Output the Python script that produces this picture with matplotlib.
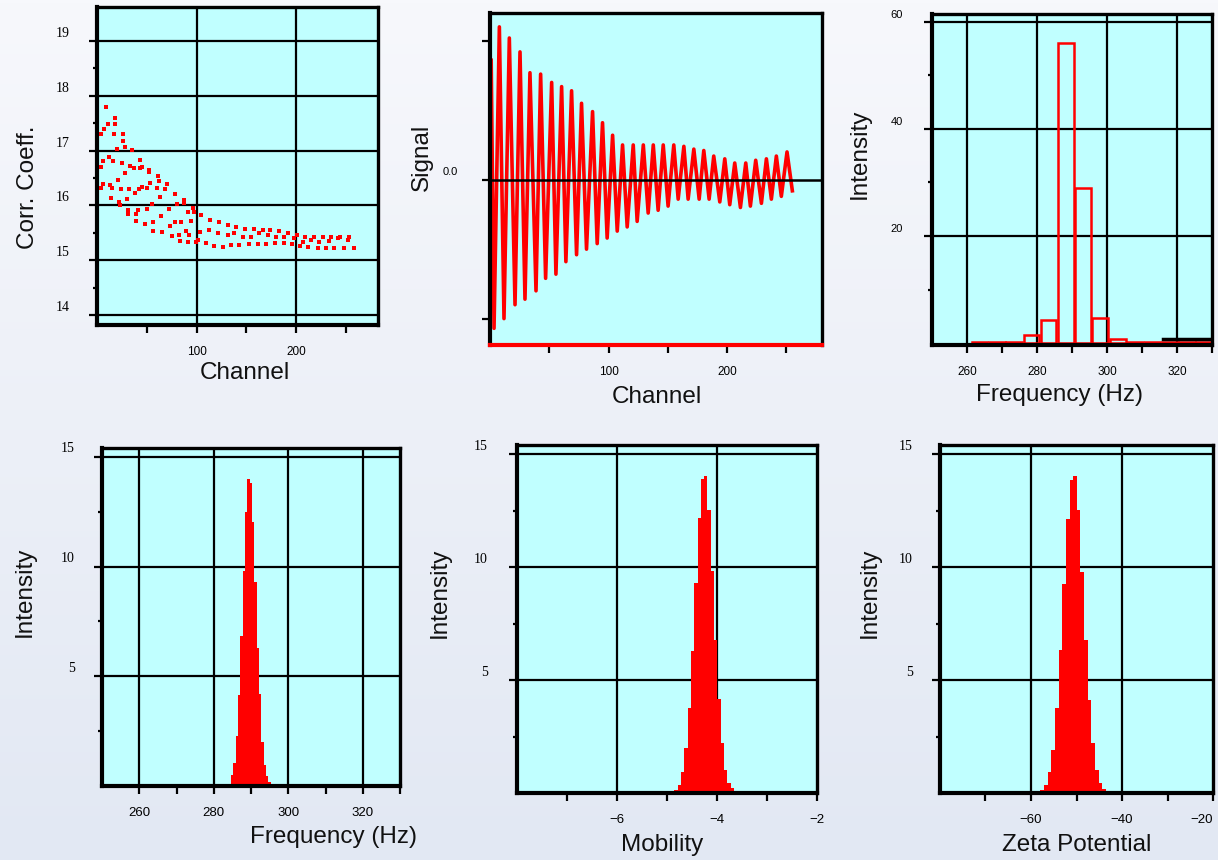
import numpy as np
import matplotlib
matplotlib.use("Agg")
import matplotlib.pyplot as plt

# ---- data -------------------------------------------------------------
# correlation coefficient scatter (channel, value)
corr_channel = [
    3.6, 7.3, 9.4, 10.7, 16.7, 18.4, 18.4, 19.8, 25.8, 26.4, 28.1, 35.1,
    4.0, 6.3, 11.7, 15.7, 25.1, 28.4, 33.4, 36.8, 43.5, 43.5, 45.2, 51.9,
    52.5, 61.5, 61.9, 20.8,
    4.3, 5.7, 13.0, 14.7, 24.1, 32.5, 37.8, 41.8, 45.2, 50.2, 53.2, 59.9,
    68.5, 69.9, 78.3,
    13.7, 21.7, 23.1, 30.1, 31.4, 41.5, 49.8, 55.2, 63.2, 71.9, 79.9, 87.6,
    87.6, 91.0, 96.0, 97.3,
    31.1, 39.1, 39.1, 48.5, 56.5, 64.2, 73.2, 78.3, 84.3, 94.3,
    56.5, 64.9, 75.2, 82.6, 89.3, 92.6, 83.6, 91.0, 99.3,
    104.3, 113.7, 122.7, 131.1, 139.5, 148.5, 157.9, 166.2, 173.9, 182.9,
    191.3, 200.3, 208.7, 218.0, 226.4, 234.8, 243.8, 252.5,
    103.7, 112.7, 121.1, 131.1, 137.8, 146.2, 154.5, 162.9, 171.2, 179.6,
    188.0, 198.0, 206.4, 214.7, 223.1, 233.1, 241.5, 251.5,
    101.0, 109.4, 117.7, 126.1, 134.4, 142.8, 152.8, 161.2, 169.6, 178.6,
    188.0, 195.3, 204.0, 212.0, 221.4, 229.8, 238.1, 248.2, 257.5,
]
corr_value = [
    17.30, 17.39, 17.80, 17.48, 17.30, 17.59, 17.48, 17.03, 17.17, 17.30, 17.06, 17.02,
    16.70, 16.81, 16.88, 16.81, 16.77, 16.59, 16.72, 16.68, 16.83, 16.68, 16.70, 16.61,
    16.64, 16.53, 16.45, 16.47,
    16.31, 16.39, 16.38, 16.31, 16.30, 16.30, 16.22, 16.30, 16.34, 16.31, 16.41, 16.31,
    16.30, 16.39, 16.21,
    16.13, 16.07, 16.01, 16.11, 15.92, 15.92, 15.93, 16.02, 16.16, 15.94, 16.02, 16.10,
    16.04, 15.89, 15.96, 15.89,
    15.85, 15.85, 15.72, 15.66, 15.69, 15.81, 15.63, 15.70, 15.70, 15.72,
    15.53, 15.52, 15.45, 15.46, 15.53, 15.46, 15.36, 15.34, 15.34,
    15.83, 15.74, 15.69, 15.64, 15.61, 15.58, 15.57, 15.55, 15.55, 15.54,
    15.49, 15.46, 15.43, 15.43, 15.42, 15.42, 15.43, 15.42,
    15.52, 15.55, 15.49, 15.46, 15.49, 15.42, 15.42, 15.49, 15.46, 15.43,
    15.42, 15.40, 15.34, 15.37, 15.34, 15.36, 15.40, 15.37,
    15.37, 15.31, 15.26, 15.25, 15.28, 15.28, 15.29, 15.29, 15.30, 15.31,
    15.31, 15.30, 15.26, 15.24, 15.22, 15.22, 15.22, 15.22, 15.22,
]

# raw signal: peaks and troughs
sig_channel = [1, 3.4, 7.9, 11.8, 16.3, 21.1, 25.3, 29.5, 33.7, 38.8, 42.7, 46.9,
               52.0, 55.6, 60.4, 64.0, 68.8, 73.0, 77.2, 81.4, 86.5, 90.4, 94.9,
               98.8, 103.4, 107.3, 111.8, 115.7, 120.8, 124.1, 129.3, 133.4, 137.7,
               141.8, 146.1, 150.2, 155.0, 158.7, 163.5, 167.1, 171.9, 176.4, 180.3,
               184.8, 188.7, 193.8, 198.0, 202.2, 206.4, 211.2, 215.7, 219.6, 224.1,
               228.9, 233.1, 237.3, 241.5, 245.7, 250.5, 255.0]
sig_value = [0.86, -1.07, 1.10, -1.00, 1.02, -0.90, 0.92, -0.86, 0.77, -0.80, 0.76, -0.71,
             0.70, -0.68, 0.67, -0.59, 0.64, -0.54, 0.55, -0.50, 0.49, -0.46, 0.41,
             -0.42, 0.32, -0.37, 0.25, -0.34, 0.25, -0.30, 0.25, -0.24, 0.25,
             -0.22, 0.25, -0.19, 0.25, -0.14, 0.24, -0.14, 0.22, -0.14, 0.21,
             -0.14, 0.17, -0.16, 0.15, -0.18, 0.12, -0.20, 0.12, -0.19, 0.14,
             -0.17, 0.15, -0.14, 0.17, -0.12, 0.20, -0.08]

# coarse frequency spectrum
fft_freq = [263.6, 268.5, 273.5, 278.4, 283.3, 288.3, 293.2, 298.1, 303.1,
            308.0, 313.0, 317.9, 322.9, 327.8]
fft_intensity = [0.2, 0.2, 0.2, 1.5, 4.4, 56.0, 29.0, 4.7, 0.8,
                 0.2, 0.2, 0.2, 0.2, 0.2]
fft_black_freq = [316, 330]
fft_black_level = [0.8, 0.8]

# fine distributions
freq_range = (284.0, 295.3)
freq_intensity = [0.11, 0.49, 1.05, 2.28, 4.14, 6.83, 9.79, 12.47, 13.97,
                  13.82, 12.04, 9.29, 6.27, 4.17, 2.00, 0.94, 0.46, 0.18]
mob_range = (-4.852, -3.598)
mob_intensity = [0.12, 0.35, 0.94, 1.98, 3.75, 6.30, 9.28, 12.15, 13.88, 14.03,
                 12.52, 9.82, 6.77, 4.15, 2.23, 1.02, 0.46, 0.21, 0.08]
zeta_range = (-57.97, -42.69)
zeta_intensity = [0.12, 0.34, 0.93, 1.92, 3.76, 6.31, 9.26, 12.14, 13.86, 14.01,
                  12.51, 9.79, 6.78, 4.13, 2.23, 1.00, 0.44, 0.16, 0.05]

# ---- figure -------------------------------------------------------------
W, H = 1218, 860
fig = plt.figure(figsize=(W / 100, H / 100), dpi=100)

bg = fig.add_axes([0, 0, 1, 1], zorder=-10)
grad = np.linspace(0, 1, 256)[:, None]
top = np.array([247, 248, 252]) / 255
bot = np.array([226, 232, 243]) / 255
bg.imshow(top + grad[..., None] * (bot - top), aspect="auto", extent=[0, 1, 0, 1])
bg.axis("off")

CYAN = "#c0ffff"
SANS = "Liberation Sans"
SERIF = "Liberation Serif"


def make_axes(x0, y0, x1, y1):
    ax = fig.add_axes([x0 / W, 1 - y1 / H, (x1 - x0) / W, (y1 - y0) / H])
    ax.set_facecolor(CYAN)
    for s in ax.spines.values():
        s.set_linewidth(2.4)
        s.set_color("black")
    ax.spines["left"].set_linewidth(3)
    ax.spines["bottom"].set_linewidth(3)
    ax.tick_params(which="both", direction="out", color="black", width=1.6,
                   top=False, right=False)
    ax.tick_params(which="major", length=6)
    ax.tick_params(which="minor", length=3)
    ax.tick_params(axis="x", pad=9, labelsize=8.5)
    ax.set_yticklabels([])
    return ax


def grid(ax, xs=(), ys=()):
    for x in xs:
        ax.axvline(x, color="black", lw=1.6, zorder=1)
    for y in ys:
        ax.axhline(y, color="black", lw=1.6, zorder=1)


def ylabels(ax, values, texts, dx=27, dy=7.5, family=SERIF, size=10):
    for v, t in zip(values, texts):
        ax.annotate(t, xy=(0, v), xycoords=("axes fraction", "data"),
                    xytext=(-dx, dy), textcoords="offset pixels",
                    ha="right", va="center", family=family, fontsize=size,
                    annotation_clip=False)


def xticks(ax, ticks, labels, family=SANS):
    ax.set_xticks(ticks)
    ax.set_xticklabels(labels, family=family)


def label(x, y, text, rot=0):
    fig.text(x / W, 1 - y / H, text, rotation=rot, ha="center", va="center",
             family=SANS, fontsize=17.5, color="#111111")


# panel 1: correlation coefficient
ax1 = make_axes(97, 7, 378, 325)
ax1.set_xlim(0, 282)
ax1.set_ylim(13.82, 19.62)
grid(ax1, xs=[100, 200], ys=[14, 15, 16, 17, 18, 19])
ax1.scatter(corr_channel, corr_value, marker="s", s=5, color="red", lw=0, zorder=3)
xticks(ax1, [50, 100, 150, 200, 250], ["", "100", "", "200", ""])
ax1.set_yticks([14, 15, 16, 17, 18, 19])
ax1.set_yticks([14.5, 15.5, 16.5, 17.5, 18.5], minor=True)
ax1.set_yticklabels([])
ylabels(ax1, [14, 15, 16, 17, 18, 19], ["14", "15", "16", "17", "18", "19"])
label(245, 373, "Channel")
label(28, 187, "Corr. Coeff.", rot=90)

# panel 2: signal
ax2 = make_axes(490, 13, 822, 345)
ax2.set_xlim(0, 280)
ax2.set_ylim(-1.19, 1.2)
ax2.plot(sig_channel, sig_value, color="red", lw=2.6, zorder=2)
ax2.axhline(0, color="black", lw=1.8, zorder=3)
ax2.spines["bottom"].set_color("red")
xticks(ax2, [50, 100, 150, 200, 250], ["", "100", "", "200", ""])
ax2.set_yticks([-1, 0, 1])
ax2.set_yticklabels([])
ylabels(ax2, [0], ["0.0"], dx=32, dy=7.7, family=SANS, size=8)
label(657, 397, "Channel")
label(422, 157, "Signal", rot=90)

# panel 3: coarse spectrum
ax3 = make_axes(932, 14, 1212, 345)
ax3.set_xlim(250, 330)
ax3.set_ylim(-0.3, 61.4)
grid(ax3, xs=[260, 280, 300, 320], ys=[20, 40, 60])
ax3.bar(fft_freq, fft_intensity, width=4.5, fill=False, edgecolor="red", lw=1.8, zorder=2)
ax3.plot(fft_black_freq, fft_black_level, color="black", lw=2.5, zorder=2)
xticks(ax3, range(260, 331, 10), ["260", "", "280", "", "300", "", "320", ""])
ax3.set_yticks([20, 40, 60])
ax3.set_yticks([10, 30, 50], minor=True)
ax3.set_yticklabels([])
ylabels(ax3, [20, 40, 60], ["20", "40", "60"], dx=29, dy=7, family=SANS, size=8)
label(1060, 395, "Frequency (Hz)")
label(860, 154, "Intensity", rot=90)


def dist_panel(box, xlim, xgrid, xt, xtl, rng, vals, xlab, xlab_pos, ylab_pos, dx):
    ax = make_axes(*box)
    ax.set_xlim(*xlim)
    ax.set_ylim(0, 15.4)
    grid(ax, xs=xgrid, ys=[5, 10, 15])
    edges = np.linspace(rng[0], rng[1], len(vals) + 1)
    ax.stairs(vals, edges, fill=True, color="red", zorder=2)
    xticks(ax, xt, xtl)
    ax.tick_params(axis="x", labelsize=9.5)
    ax.set_yticks([5, 10, 15])
    ax.set_yticks([2.5, 7.5, 12.5], minor=True)
    ax.set_yticklabels([])
    ylabels(ax, [5, 10, 15], ["5", "10", "15"], dx=dx, dy=8, size=10)
    label(*xlab_pos, xlab)
    label(*ylab_pos, "Intensity", rot=90)
    return ax


dist_panel((102, 448, 400, 786), (250, 330), [260, 280, 300, 320],
           range(260, 331, 10), ["260", "", "280", "", "300", "", "320", ""],
           freq_range, freq_intensity, "Frequency (Hz)", (333, 837), (25, 592), 27)
dist_panel((517, 445, 817, 793), (-8, -2), [-6, -4],
           [-7, -6, -5, -4, -3, -2], ["", "\u22126", "", "\u22124", "", "\u22122"],
           mob_range, mob_intensity, "Mobility", (662, 845), (440, 593), 29)
ax6 = dist_panel((940, 445, 1213, 793), (-80, -20), [-60, -40],
                 [-70, -60, -50, -40, -30, -20], ["", "\u221260", "", "\u221240", "", "\u221220"],
                 zeta_range, zeta_intensity, "Zeta Potential", (1077, 845), (870, 593), 27)
# keep the last tick label inside the picture
ax6.get_xticklabels()[-1].set_horizontalalignment("right")

fig.savefig("out.png", dpi=100)
